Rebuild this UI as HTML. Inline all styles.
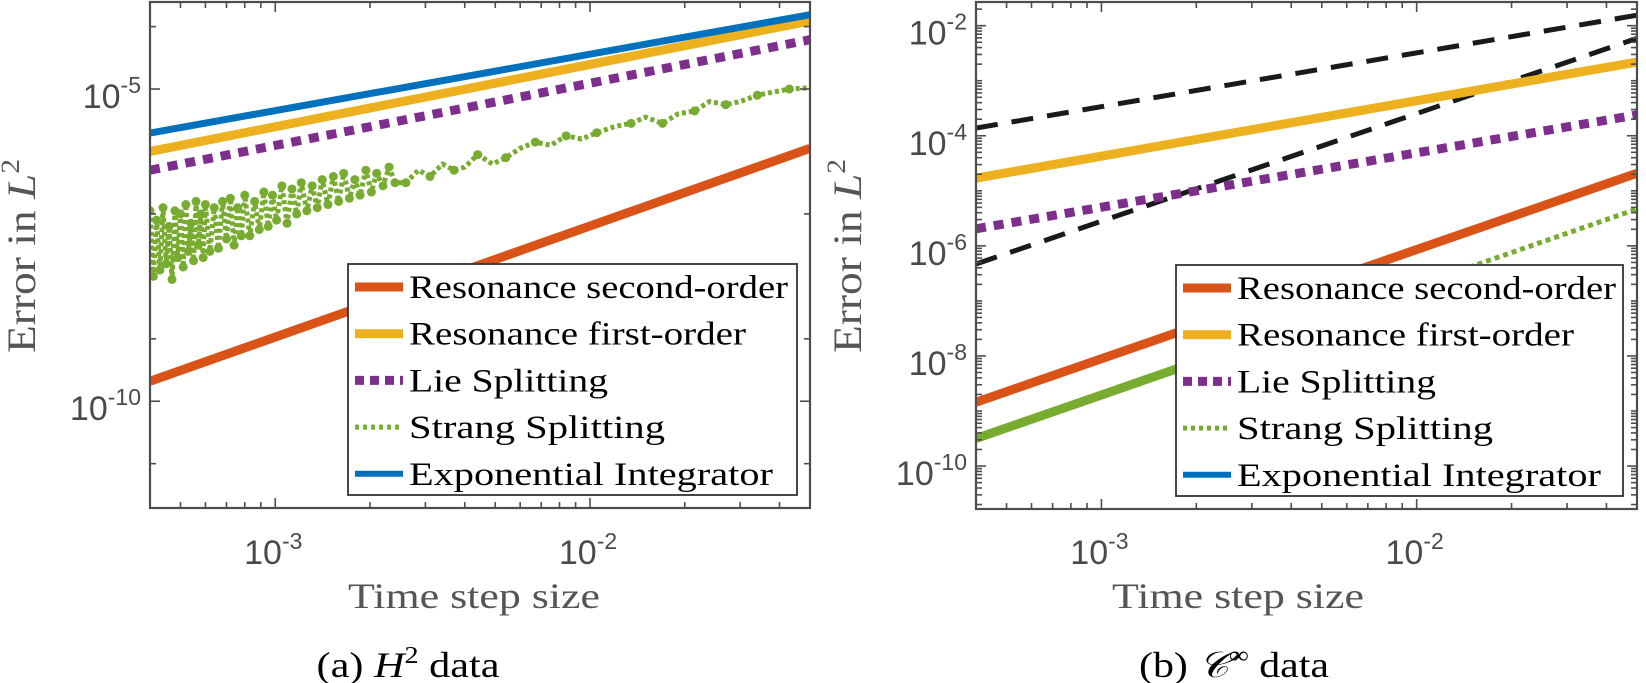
<!DOCTYPE html>
<html><head><meta charset="utf-8"><style>
html,body{margin:0;padding:0;background:#fff;}
svg{display:block;}
.tk{font-family:"Liberation Sans",sans-serif;fill:#4a4a4a;}
.sr{font-family:"Liberation Serif",serif;}
</style></head><body>
<svg id="fig" width="1646" height="683" viewBox="0 0 1646 683" xmlns="http://www.w3.org/2000/svg"></svg>
<script>
// ---- data (log10 of error; time steps in real units) ----
const endSteps = [4e-4, 5e-2];
const aExpo = [-5.705, -3.81];
const aRes1 = [-6.0, -3.91];
const aLie = [-6.3, -4.21];
const aRes2 = [-9.68, -5.95];
const strangSteps = [4.0e-4,4.1e-4,4.2e-4,4.3e-4,4.4e-4,4.5e-4,4.6e-4,4.7e-4,4.8e-4,4.9e-4,5.0e-4,5.1e-4,5.2e-4,5.3e-4,5.4e-4,5.5e-4,5.6e-4,5.7e-4,5.8e-4,5.9e-4,6.0e-4,6.2e-4,6.4e-4,6.6e-4,6.8e-4,7.0e-4,7.2e-4,7.4e-4,7.6e-4,7.8e-4,8.0e-4,8.3e-4,8.6e-4,8.9e-4,9.2e-4,9.5e-4,9.8e-4,1.01e-3,1.05e-3,1.09e-3,1.13e-3,1.17e-3,1.21e-3,1.26e-3,1.31e-3,1.36e-3,1.41e-3,1.47e-3,1.53e-3,1.59e-3,1.65e-3,1.72e-3,1.79e-3,1.86e-3,1.94e-3,2.02e-3,2.10e-3,2.20e-3,2.30e-3,2.40e-3,2.6e-3,2.85e-3,3.1e-3,3.4e-3,3.7e-3,4.0e-3,4.4e-3,4.9e-3,5.4e-3,6.0e-3,6.7e-3,7.5e-3,8.4e-3,9.4e-3,1.05e-2,1.2e-2,1.35e-2,1.5e-2,1.7e-2,1.9e-2,2.15e-2,2.4e-2,2.7e-2,3.0e-2,3.4e-2,3.8e-2,4.3e-2,5.0e-2];
const aStrang = [-6.95,-8.0,-7.1,-7.9,-6.9,-7.8,-7.2,-8.05,-6.95,-7.7,-7.0,-7.85,-6.85,-7.6,-7.15,-7.75,-6.8,-7.5,-7.0,-7.7,-6.85,-7.6,-6.9,-7.55,-6.8,-7.4,-6.75,-7.5,-6.9,-7.35,-6.7,-7.35,-6.8,-7.25,-6.65,-7.2,-6.7,-7.1,-6.55,-7.15,-6.6,-7.0,-6.5,-6.95,-6.55,-6.9,-6.45,-6.85,-6.4,-6.8,-6.35,-6.75,-6.45,-6.7,-6.3,-6.65,-6.35,-6.55,-6.25,-6.5,-6.5,-6.3,-6.4,-6.2,-6.3,-6.25,-6.05,-6.2,-6.1,-5.95,-5.85,-5.9,-5.75,-5.8,-5.7,-5.6,-5.55,-5.45,-5.55,-5.4,-5.35,-5.2,-5.25,-5.2,-5.1,-5.05,-5.0,-4.98];
const bRef1 = [-3.86, -1.81];
const bRef2 = [-6.33, -2.23];
const bRes1 = [-4.77, -2.66];
const bExpo = [-4.77, -2.66];
const bLie = [-5.69, -3.62];
const bRes2 = [-8.84, -4.68];
const bStrang = [-9.50, -5.33];
const xTickExp = [-3, -2];
const aYTickExp = [-5, -10];
const bYTickExp = [-2, -4, -6, -8, -10];
const legendLabels = ["Resonance second-order","Resonance first-order","Lie Splitting","Strang Splitting","Exponential Integrator"];
const legendWidths = [379, 337, 199, 256, 364];

const NS = "http://www.w3.org/2000/svg";
const svg = document.getElementById('fig');
function el(tag, attrs, parent){const e=document.createElementNS(NS,tag);for(const k in attrs)e.setAttribute(k,attrs[k]);(parent||svg).appendChild(e);return e;}

function makeAxes(cfg){
  const g = el('g',{});
  
  
  const xs = v => cfg.x0 + (Math.log10(v) - cfg.lx0)/(cfg.lx1-cfg.lx0)*(cfg.x1-cfg.x0);
  const ys = l => cfg.y0 + (cfg.ly1 - l)/(cfg.ly1-cfg.ly0)*(cfg.y1-cfg.y0);
  const cid = cfg.name+'-clip';
  const cp = el('clipPath',{id:cid},g);
  el('rect',{x:cfg.x0,y:cfg.y0,width:cfg.x1-cfg.x0,height:cfg.y1-cfg.y0},cp);
  const plot = el('g',{'clip-path':'url(#'+cid+')'},g);
  return {g,xs,ys,plot};
}
function line(ax, steps, vals, color, w, dash, name, extra){
  const p = el('polyline',{points:steps.map((s,i)=>ax.xs(s)+','+ax.ys(vals[i])).join(' '),fill:'none',stroke:color,'stroke-width':w,'stroke-dasharray':dash||'none','stroke-linejoin':'round'},ax.plot);
  
  
  if(extra) for(const k in extra) p.setAttribute(k,extra[k]);
  return p;
}
function frame(ax,cfg,yTicksMajor,yMinorLogs){
  const g=ax.g;
  const box=el('rect',{x:cfg.x0,y:cfg.y0,width:cfg.x1-cfg.x0,height:cfg.y1-cfg.y0,fill:'none',stroke:'#4d4d4d','stroke-width':2.2},g);
  
  
  for(let e=-4;e<=-1;e++){for(let m=1;m<=9;m++){const v=m*Math.pow(10,e);const lv=Math.log10(v);if(lv<cfg.lx0-1e-6||lv>cfg.lx1+1e-6)continue;const x=ax.xs(v);const L=m===1?10:6;
    el('line',{x1:x,x2:x,y1:cfg.y1,y2:cfg.y1-L,stroke:'#4d4d4d','stroke-width':1.6},g);
    el('line',{x1:x,x2:x,y1:cfg.y0,y2:cfg.y0+L,stroke:'#4d4d4d','stroke-width':1.6},g);}}
  xTickExp.forEach(e=>{const x=ax.xs(Math.pow(10,e));
    const t=el('text',{x:x-2,y:564,'font-size':34,'text-anchor':'middle',class:'tk'},g);
    
    
    t.innerHTML='10<tspan dy="-15" font-size="23">'+e+'</tspan>';});
  yMinorLogs.forEach(l=>{const y=ax.ys(l);if(y<cfg.y0||y>cfg.y1)return;const L=yTicksMajor.includes(Math.round(l*1000)/1000)?10:6;
    el('line',{x1:cfg.x0,x2:cfg.x0+L,y1:y,y2:y,stroke:'#4d4d4d','stroke-width':1.6},g);
    el('line',{x1:cfg.x1,x2:cfg.x1-L,y1:y,y2:y,stroke:'#4d4d4d','stroke-width':1.6},g);});
  yTicksMajor.forEach(e=>{const y=ax.ys(e);
    const t=el('text',{x:cfg.x0-9,y:y+19,'font-size':34,'text-anchor':'end',class:'tk'},g);
    
    
    t.innerHTML='10<tspan dy="-15" font-size="23">'+e+'</tspan>';});
}
function legend(ax,bx,by,bw,bh){
  const g=el('g',{},ax.g);
  
  
  el('rect',{x:bx,y:by,width:bw,height:bh,fill:'#fff',stroke:'#333','stroke-width':1.8},g);
  const styles=[['#d95319',9,'none'],['#edb120',9,'none'],['#7e2f8e',9,'9 6'],['#77ac30',5,'4 4'],['#0072bd',6,'none']];
  legendLabels.forEach((lab,i)=>{const cy=by+23+i*46.7;const s=styles[i];
    const ln=el('line',{x1:bx+7,x2:bx+55,y1:cy,y2:cy,stroke:s[0],'stroke-width':s[1],'stroke-dasharray':s[2]},g);
    
    
    const t=el('text',{x:bx+61,y:cy+11,'font-size':33,fill:'#000',class:'sr',textLength:legendWidths[i],lengthAdjust:'spacingAndGlyphs'},g);
    
    
    t.textContent=lab;});
}
function yLabel(x,y){
  const t=el('text',{x:0,y:0,'font-size':40,fill:'#555',class:'sr','text-anchor':'middle',textLength:194,lengthAdjust:'spacingAndGlyphs',transform:'translate('+x+','+y+') rotate(-90)'});
  
  
  t.innerHTML='Error in  <tspan font-style="italic">L</tspan><tspan dy="-16" font-size="26">2</tspan>';
}
function xLabel(x){
  const t=el('text',{x:x,y:608,'font-size':36,fill:'#555',class:'sr','text-anchor':'middle',textLength:252,lengthAdjust:'spacingAndGlyphs'});
  
  
  t.textContent='Time step size';
}

// ---- panel a ----
const cfgA={name:'panel-a-axes',x0:150,x1:810,y0:2,y1:508,lx0:Math.log10(4e-4),lx1:Math.log10(5e-2),ly0:-11.71,ly1:-3.606};
const A=makeAxes(cfgA);
line(A,endSteps,aRes2,'#d95319',9,null,'resonance-second-order-line');
line(A,strangSteps,aStrang,'#77ac30',5,'4 3','strang-splitting-line');
strangSteps.forEach((s,i)=>{if(i>=60&&i%2)return;const c=el('circle',{cx:A.xs(s),cy:A.ys(aStrang[i]),r:4.5,fill:'#77ac30'},A.plot);
  
  });
line(A,endSteps,aLie,'#7e2f8e',9,'10 8','lie-splitting-line');
line(A,endSteps,aRes1,'#edb120',9,null,'resonance-first-order-line');
line(A,endSteps,aExpo,'#0072bd',7,null,'exponential-integrator-line');
frame(A,cfgA,aYTickExp,[-4,-5,-7,-9,-10,-11]);
legend(A,348,264,449,231);
yLabel(35,256);
xLabel(474);

// ---- panel b ----
const cfgB={name:'panel-b-axes',x0:976,x1:1637,y0:2,y1:509,lx0:Math.log10(4e-4),lx1:Math.log10(5e-2),ly0:-10.78,ly1:-1.57};
const B=makeAxes(cfgB);
line(B,endSteps,bRef1,'#1a1a1a',5,'22 14','reference-line-order1');
line(B,endSteps,bRef2,'#1a1a1a',5,'22 14','reference-line-order2');
line(B,endSteps,bRes2,'#d95319',9,null,'resonance-second-order-line');
line(B,endSteps,bStrang,'#77ac30',5,'5 4','strang-splitting-line');
const cpg=el('clipPath',{id:'gclip'},B.g);el('rect',{x:976,y:0,width:225,height:683},cpg);
line(B,endSteps,bStrang,'#77ac30',9,null,'strang-splitting-dense',{'clip-path':'url(#gclip)'});
line(B,endSteps,bLie,'#7e2f8e',9,'10 8','lie-splitting-line');
line(B,endSteps,bExpo,'#0072bd',7,null,'exponential-integrator-line');
line(B,endSteps,bRes1,'#edb120',9,null,'resonance-first-order-line');
const bMinor=[];for(let e=-11;e<=-1;e++){for(let m=1;m<=9;m++)bMinor.push(Math.round((e+Math.log10(m))*1000)/1000);}
frame(B,cfgB,bYTickExp,bMinor);
legend(B,1176,265,447,231);
yLabel(861,256);
xLabel(1238);

// captions
const c1=el('text',{x:408,y:677,'font-size':36,fill:'#000',class:'sr','text-anchor':'middle',textLength:183,lengthAdjust:'spacingAndGlyphs'});


c1.innerHTML='(a)  <tspan font-style="italic">H</tspan><tspan dy="-14" font-size="24">2</tspan><tspan dy="14"> data</tspan>';
const c2=el('text',{x:1234,y:677,'font-size':36,fill:'#000',class:'sr','text-anchor':'middle',textLength:190,lengthAdjust:'spacingAndGlyphs'});


c2.innerHTML='(b) <tspan font-style="italic">𝒞</tspan><tspan dy="-14" font-size="24">∞</tspan><tspan dy="14"> data</tspan>';
</script>
</body></html>
